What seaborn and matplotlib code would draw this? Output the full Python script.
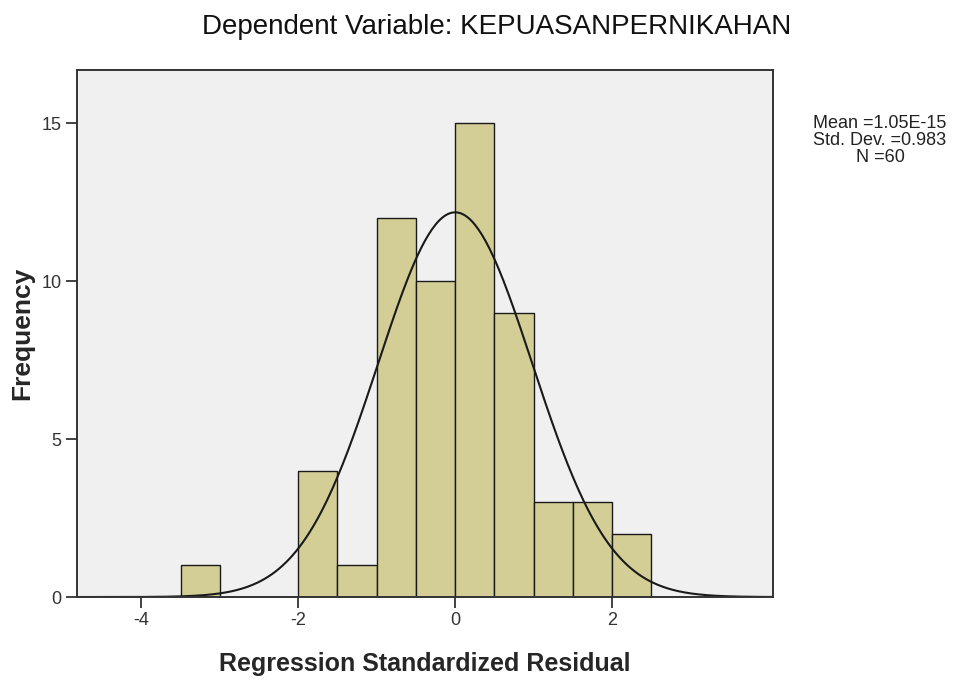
import numpy as np
import pandas as pd
import matplotlib
matplotlib.use("Agg")
import matplotlib.pyplot as plt
import seaborn as sns

sns.set_style("white")
plt.rcParams['font.family'] = ['Liberation Sans', 'DejaVu Sans']
plt.rcParams['axes.unicode_minus'] = False

# Histogram of regression standardized residuals (bin width 0.5)
bin_edges = [-3.5, -3.0, -2.5, -2.0, -1.5, -1.0, -0.5, 0.0, 0.5, 1.0, 1.5, 2.0, 2.5]
counts = [1, 0, 0, 4, 1, 12, 10, 15, 9, 3, 3, 2]
mean_val = 1.05e-15
std_val = 0.983
n_val = 60

centers = [(a + b) / 2 for a, b in zip(bin_edges[:-1], bin_edges[1:])]
hist_df = pd.DataFrame({'resid': centers, 'count': counts})

fig = plt.figure(figsize=(9.55, 6.81), dpi=100)
ax = fig.add_axes([0.0806, 0.1233, 0.7288, 0.7739])
ax.set_facecolor('#F0F0F0')

sns.histplot(data=hist_df, x='resid', weights='count', bins=bin_edges,
             color='#D3CE96', edgecolor='#1a1a1a', linewidth=1.0, alpha=1,
             ax=ax)

# fitted normal curve
xs = np.linspace(-4.8, 4.05, 400)
binw = bin_edges[1] - bin_edges[0]
ys = n_val * binw * np.exp(-0.5 * ((xs - mean_val) / std_val) ** 2) / (std_val * np.sqrt(2 * np.pi))
sns.lineplot(x=xs, y=ys, color='#1a1a1a', linewidth=1.5, ax=ax)

ax.set_xlim(-4.82, 4.05)
ax.set_ylim(0, 16.68)
ax.set_xticks([-4, -2, 0, 2])
ax.set_yticks([0, 5, 10, 15])
ax.tick_params(axis='both', bottom=True, left=True, direction='out', length=8, width=1.3,
               color='#333333', labelsize=13, labelcolor='#333333', pad=3)
for s in ax.spines.values():
    s.set_color('#333333')
    s.set_linewidth(1.4)

ax.set_xlabel('Regression Standardized Residual', fontsize=18, fontweight='bold', labelpad=16)
ax.set_ylabel('Frequency', fontsize=19, fontweight='bold', labelpad=5)

fig.text(0.52, 0.96, 'Dependent Variable: KEPUASANPERNIKAHAN', ha='center', va='center',
         fontsize=20, color='#111111')
fig.text(0.9215, 0.794, 'Mean =1.05E-15\nStd. Dev. =0.983\nN =60', ha='center', va='center',
         fontsize=13, linespacing=1.0, color='#222222')

fig.savefig('out.png', dpi=100)
